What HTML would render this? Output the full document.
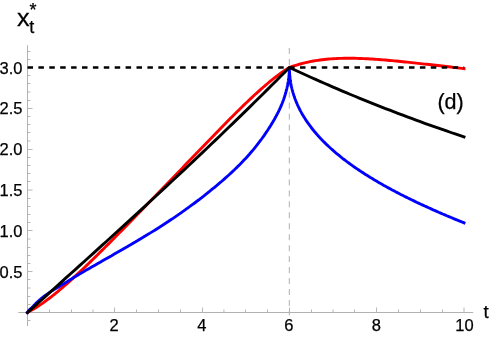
<!DOCTYPE html>
<html><head><meta charset="utf-8"><title>plot</title>
<style>html,body{margin:0;padding:0;background:#fff;overflow:hidden}svg{display:block;will-change:transform}text{font-family:"Liberation Sans",sans-serif}</style>
</head><body>
<svg width="491" height="337" viewBox="0 0 491 337">
<rect width="491" height="337" fill="#fff"/>
<path d="M18.3,312.5 H473.2 M27.5,45.2 V326" stroke="#b2b2b2" stroke-width="1" fill="none"/>
<path d="M49.50,312.5 v-3 M71.50,312.5 v-3 M92.97,312.5 v-3 M114.50,312.5 v-5 M136.50,312.5 v-3 M158.50,312.5 v-3 M180.50,312.5 v-3 M202.50,312.5 v-5 M223.92,312.5 v-3 M245.50,312.5 v-3 M267.50,312.5 v-3 M289.50,312.5 v-5 M311.50,312.5 v-3 M333.05,312.5 v-3 M354.50,312.5 v-3 M376.50,312.5 v-5 M398.50,312.5 v-3 M420.50,312.5 v-3 M442.50,312.5 v-3 M464.00,312.5 v-5 M27.5,320.50 h3 M27.5,304.50 h3 M27.5,296.50 h3 M27.5,288.00 h3 M27.5,279.50 h3 M27.5,271.50 h5 M27.5,263.50 h3 M27.5,255.50 h3 M27.5,247.50 h3 M27.5,239.00 h3 M27.5,230.50 h5 M27.5,222.50 h3 M27.5,214.50 h3 M27.5,206.50 h3 M27.5,198.50 h3 M27.5,190.00 h5 M27.5,181.50 h3 M27.5,173.50 h3 M27.5,165.50 h3 M27.5,157.50 h3 M27.5,149.50 h5 M27.5,140.99 h3 M27.5,132.50 h3 M27.5,124.50 h3 M27.5,116.50 h3 M27.5,108.50 h5 M27.5,100.50 h3 M27.5,91.99 h3 M27.5,83.50 h3 M27.5,75.50 h3 M27.5,67.50 h5 M27.5,59.50 h3 M27.5,51.50 h3" stroke="#b8b8b8" stroke-width="1" fill="none"/>
<path d="M289.3,47.9 V315.3" stroke="#b0b0b0" stroke-width="1" stroke-dasharray="6 4.96" fill="none"/>
<path d="M27.50,312.50 L29.68,311.33 L31.87,310.10 L34.05,308.81 L36.23,307.46 L38.41,306.05 L40.59,304.59 L42.78,303.08 L44.96,301.52 L47.14,299.92 L49.33,298.27 L51.51,296.58 L53.69,294.86 L55.87,293.10 L58.06,291.30 L60.24,289.47 L62.42,287.61 L64.60,285.72 L66.78,283.81 L68.97,281.86 L71.15,279.90 L73.33,277.91 L75.52,275.91 L77.70,273.88 L79.88,271.84 L82.06,269.77 L84.25,267.70 L86.43,265.61 L88.61,263.50 L90.79,261.38 L92.97,259.26 L95.16,257.12 L97.34,254.97 L99.52,252.81 L101.70,250.64 L103.89,248.47 L106.07,246.28 L108.25,244.10 L110.44,241.90 L112.62,239.70 L114.80,237.50 L116.98,235.29 L119.17,233.07 L121.35,230.86 L123.53,228.64 L125.71,226.41 L127.90,224.18 L130.08,221.95 L132.26,219.72 L134.44,217.49 L136.62,215.25 L138.81,213.01 L140.99,210.77 L143.17,208.52 L145.36,206.28 L147.54,204.03 L149.72,201.78 L151.90,199.53 L154.09,197.28 L156.27,195.03 L158.45,192.77 L160.63,190.52 L162.81,188.26 L165.00,186.00 L167.18,183.74 L169.36,181.48 L171.55,179.22 L173.73,176.95 L175.91,174.69 L178.09,172.42 L180.28,170.16 L182.46,167.89 L184.64,165.62 L186.82,163.35 L189.00,161.08 L191.19,158.82 L193.37,156.55 L195.55,154.28 L197.74,152.01 L199.92,149.74 L202.10,147.48 L204.28,145.21 L206.47,142.95 L208.65,140.69 L210.83,138.43 L213.01,136.18 L215.19,133.93 L217.38,131.69 L219.56,129.45 L221.74,127.21 L223.92,124.99 L226.11,122.77 L228.29,120.55 L230.47,118.35 L232.66,116.16 L234.84,113.98 L237.02,111.81 L239.20,109.66 L241.39,107.52 L243.57,105.39 L245.75,103.29 L247.93,101.20 L250.12,99.13 L252.30,97.08 L254.48,95.06 L256.66,93.06 L258.85,91.09 L261.03,89.15 L263.21,87.23 L265.39,85.35 L267.57,83.51 L269.76,81.70 L271.94,79.93 L274.12,78.20 L276.31,76.52 L278.49,74.88 L280.67,73.29 L282.85,71.76 L285.04,70.28 L287.22,68.85 L289.40,67.49 L291.58,66.70 L293.76,65.96 L295.95,65.26 L298.13,64.60 L300.31,63.98 L302.50,63.41 L304.68,62.86 L306.86,62.36 L309.04,61.89 L311.22,61.45 L313.41,61.05 L315.59,60.68 L317.77,60.34 L319.95,60.03 L322.14,59.74 L324.32,59.49 L326.50,59.26 L328.69,59.06 L330.87,58.88 L333.05,58.73 L335.23,58.60 L337.42,58.49 L339.60,58.41 L341.78,58.34 L343.96,58.29 L346.15,58.26 L348.33,58.25 L350.51,58.25 L352.69,58.28 L354.88,58.31 L357.06,58.36 L359.24,58.43 L361.42,58.51 L363.61,58.60 L365.79,58.70 L367.97,58.81 L370.15,58.94 L372.33,59.07 L374.52,59.22 L376.70,59.37 L378.88,59.53 L381.06,59.70 L383.25,59.88 L385.43,60.06 L387.61,60.25 L389.80,60.44 L391.98,60.64 L394.16,60.85 L396.34,61.06 L398.52,61.27 L400.71,61.49 L402.89,61.71 L405.07,61.94 L407.26,62.17 L409.44,62.40 L411.62,62.63 L413.80,62.86 L415.99,63.10 L418.17,63.34 L420.35,63.58 L422.53,63.82 L424.71,64.07 L426.90,64.31 L429.08,64.56 L431.26,64.80 L433.44,65.05 L435.63,65.30 L437.81,65.55 L439.99,65.80 L442.18,66.05 L444.36,66.30 L446.54,66.55 L448.72,66.81 L450.91,67.06 L453.09,67.32 L455.27,67.58 L457.45,67.84 L459.63,68.10 L461.82,68.36 L464.00,68.63" stroke="#f00" stroke-width="2.9" fill="none" stroke-linecap="square" stroke-linejoin="round"/>
<path d="M27.50,312.50 L27.72,312.07 L27.94,311.66 L28.37,310.95 L29.03,310.15 L29.68,309.48 L30.77,308.50 L31.87,307.52 L32.96,306.43 L34.05,305.33 L35.14,304.22 L36.23,303.12 L37.32,302.04 L38.41,301.01 L39.50,300.03 L40.60,299.11 L41.69,298.21 L42.78,297.34 L43.87,296.50 L44.96,295.68 L46.05,294.88 L47.14,294.09 L48.23,293.33 L49.33,292.58 L50.42,291.84 L51.51,291.12 L52.60,290.42 L53.69,289.74 L54.78,289.07 L55.87,288.42 L56.96,287.77 L58.06,287.13 L59.15,286.50 L60.24,285.87 L61.33,285.23 L62.42,284.59 L63.51,283.95 L64.60,283.29 L65.69,282.60 L66.79,281.90 L67.88,281.20 L68.97,280.50 L70.06,279.80 L71.15,279.11 L72.24,278.42 L73.33,277.75 L74.42,277.08 L75.52,276.43 L76.61,275.79 L77.70,275.15 L78.79,274.51 L79.88,273.87 L80.97,273.23 L82.06,272.59 L83.15,271.95 L84.25,271.30 L86.35,270.08 L89.24,268.42 L92.11,266.78 L94.96,265.15 L97.79,263.53 L100.60,261.93 L103.38,260.35 L106.15,258.77 L108.90,257.20 L111.62,255.65 L114.32,254.10 L117.01,252.57 L119.67,251.04 L122.31,249.52 L124.93,248.00 L127.53,246.50 L130.11,245.00 L132.67,243.50 L135.21,242.01 L137.73,240.52 L140.22,239.03 L142.70,237.55 L145.15,236.07 L147.59,234.59 L150.00,233.12 L152.39,231.64 L154.77,230.16 L157.12,228.69 L159.45,227.21 L161.76,225.74 L164.05,224.26 L166.32,222.78 L168.57,221.30 L170.79,219.81 L173.00,218.33 L175.19,216.84 L177.35,215.36 L179.50,213.87 L181.62,212.38 L183.72,210.90 L185.80,209.41 L187.87,207.92 L189.91,206.44 L191.93,204.95 L193.93,203.47 L195.90,201.99 L197.86,200.51 L199.80,199.03 L201.72,197.55 L203.61,196.08 L205.49,194.60 L207.34,193.13 L209.18,191.67 L210.99,190.20 L212.78,188.74 L214.55,187.28 L216.30,185.83 L218.03,184.37 L219.74,182.92 L221.43,181.48 L223.10,180.04 L224.75,178.59 L226.37,177.16 L227.98,175.72 L229.56,174.28 L231.13,172.84 L232.67,171.41 L234.19,169.97 L235.70,168.53 L237.18,167.09 L238.64,165.65 L240.08,164.20 L241.50,162.76 L242.90,161.31 L244.27,159.85 L245.63,158.40 L246.97,156.94 L248.28,155.47 L249.58,154.00 L250.85,152.53 L252.11,151.06 L253.34,149.58 L254.55,148.10 L255.74,146.62 L256.91,145.14 L258.06,143.66 L259.19,142.18 L260.30,140.71 L261.39,139.24 L262.45,137.77 L263.50,136.30 L264.53,134.84 L265.53,133.39 L266.52,131.94 L267.48,130.49 L268.42,129.06 L269.34,127.62 L270.25,126.20 L271.13,124.78 L271.99,123.37 L272.82,121.97 L273.64,120.57 L274.44,119.18 L275.22,117.79 L275.97,116.41 L276.71,115.04 L277.42,113.67 L278.12,112.29 L278.79,110.92 L279.44,109.55 L280.08,108.18 L280.69,106.81 L281.28,105.44 L281.85,104.07 L282.40,102.69 L282.93,101.31 L283.43,99.93 L283.92,98.55 L284.39,97.17 L284.83,95.78 L285.26,94.40 L285.66,93.01 L286.04,91.63 L286.41,90.24 L286.75,88.86 L287.07,87.48 L287.37,86.11 L287.65,84.74 L287.91,83.38 L288.15,82.02 L288.36,80.67 L288.56,79.32 L288.74,77.98 L288.89,76.65 L289.03,75.33 L289.14,74.01 L289.23,72.69 L289.31,71.39 L289.36,70.08 L289.39,68.79 L289.40,67.49 L289.41,68.61 L289.43,69.73 L289.46,70.85 L289.51,71.97 L289.57,73.08 L289.65,74.19 L289.74,75.31 L289.84,76.41 L289.96,77.52 L290.09,78.63 L290.24,79.73 L290.39,80.83 L290.57,81.93 L290.75,83.03 L290.95,84.12 L291.17,85.21 L291.40,86.30 L291.64,87.39 L291.89,88.48 L292.16,89.57 L292.45,90.65 L292.74,91.73 L293.05,92.81 L293.38,93.88 L293.72,94.96 L294.07,96.03 L294.43,97.10 L294.81,98.17 L295.21,99.24 L295.62,100.30 L296.04,101.36 L296.47,102.42 L296.92,103.48 L297.38,104.54 L297.86,105.59 L298.35,106.64 L298.85,107.69 L299.37,108.74 L299.90,109.78 L300.45,110.83 L301.01,111.87 L301.58,112.91 L302.17,113.95 L302.77,114.98 L303.39,116.01 L304.01,117.04 L304.66,118.07 L305.31,119.10 L305.98,120.12 L306.67,121.15 L307.36,122.17 L308.07,123.19 L308.80,124.20 L309.54,125.22 L310.29,126.23 L311.06,127.24 L311.84,128.25 L312.63,129.25 L313.44,130.26 L314.26,131.26 L315.10,132.26 L315.95,133.26 L316.81,134.25 L317.69,135.25 L318.58,136.24 L319.48,137.23 L320.40,138.22 L321.34,139.21 L322.28,140.19 L323.24,141.17 L324.22,142.15 L325.20,143.13 L326.20,144.11 L327.22,145.08 L328.25,146.06 L329.29,147.03 L330.35,148.00 L331.42,148.96 L332.50,149.93 L333.60,150.89 L334.71,151.85 L335.84,152.81 L336.98,153.77 L338.13,154.73 L339.30,155.68 L340.48,156.64 L341.67,157.59 L342.88,158.54 L344.11,159.48 L345.34,160.43 L346.59,161.37 L347.86,162.32 L349.13,163.26 L350.42,164.20 L351.73,165.13 L353.05,166.07 L354.38,167.01 L355.73,167.94 L357.09,168.87 L358.46,169.80 L359.85,170.73 L361.25,171.66 L362.67,172.58 L364.10,173.51 L365.54,174.43 L367.00,175.35 L368.47,176.27 L369.96,177.19 L371.45,178.11 L372.97,179.02 L374.49,179.94 L376.03,180.85 L377.59,181.76 L379.16,182.67 L380.74,183.58 L382.33,184.49 L383.94,185.40 L385.56,186.31 L387.20,187.21 L388.85,188.12 L390.52,189.02 L392.19,189.92 L393.89,190.82 L395.59,191.72 L397.31,192.62 L399.05,193.52 L400.79,194.42 L402.55,195.31 L404.33,196.21 L406.12,197.10 L407.92,198.00 L409.74,198.89 L411.57,199.78 L413.41,200.67 L415.27,201.57 L417.14,202.46 L419.03,203.35 L420.92,204.23 L422.84,205.12 L424.76,206.01 L426.71,206.90 L428.66,207.79 L430.63,208.67 L432.61,209.56 L434.61,210.45 L436.62,211.33 L438.64,212.22 L440.68,213.10 L442.73,213.99 L444.79,214.87 L446.87,215.76 L448.96,216.64 L451.07,217.52 L453.19,218.41 L455.33,219.29 L457.47,220.18 L459.64,221.06 L461.81,221.95 L464.00,222.83" stroke="#00f" stroke-width="2.9" fill="none" stroke-linecap="square" stroke-linejoin="bevel"/>
<path d="M27.50,312.50 L31.87,308.58 L36.23,304.66 L40.59,300.74 L44.96,296.82 L49.33,292.90 L53.69,288.98 L58.06,285.06 L62.42,281.13 L66.78,277.20 L71.15,273.27 L75.52,269.34 L79.88,265.40 L84.25,261.46 L88.61,257.52 L92.97,253.57 L97.34,249.62 L101.70,245.67 L106.07,241.71 L110.44,237.74 L114.80,233.77 L119.17,229.80 L123.53,225.82 L127.90,221.83 L132.26,217.84 L136.62,213.84 L140.99,209.83 L145.36,205.81 L149.72,201.79 L154.09,197.76 L158.45,193.73 L162.81,189.68 L167.18,185.63 L171.55,181.56 L175.91,177.49 L180.28,173.41 L184.64,169.32 L189.00,165.22 L193.37,161.11 L197.74,156.99 L202.10,152.85 L206.47,148.71 L210.83,144.56 L215.19,140.39 L219.56,136.21 L223.92,132.02 L228.29,127.82 L232.66,123.60 L237.02,119.37 L241.39,115.13 L245.75,110.87 L250.12,106.60 L254.48,102.32 L258.85,98.02 L263.21,93.70 L267.57,89.37 L271.94,85.03 L276.31,80.67 L280.67,76.29 L285.04,71.90 L289.40,67.49 L293.76,69.52 L298.13,71.54 L302.50,73.54 L306.86,75.52 L311.22,77.49 L315.59,79.44 L319.95,81.37 L324.32,83.29 L328.69,85.19 L333.05,87.08 L337.41,88.95 L341.78,90.81 L346.14,92.65 L350.51,94.47 L354.88,96.28 L359.24,98.07 L363.61,99.85 L367.97,101.62 L372.33,103.37 L376.70,105.10 L381.06,106.82 L385.43,108.53 L389.80,110.22 L394.16,111.90 L398.52,113.57 L402.89,115.22 L407.25,116.86 L411.62,118.48 L415.99,120.09 L420.35,121.69 L424.71,123.27 L429.08,124.84 L433.44,126.40 L437.81,127.94 L442.18,129.47 L446.54,130.99 L450.90,132.50 L455.27,133.99 L459.63,135.47 L464.00,136.94" stroke="#000" stroke-width="2.9" fill="none" stroke-linecap="square" stroke-linejoin="miter"/>
<path d="M27.5,67.49 H464.2" stroke="#000" stroke-width="2.7" stroke-dasharray="5.5 5.4" fill="none"/>
<g fill="#000" stroke="#000" stroke-width="0.25" font-family="'Liberation Sans', sans-serif"><text x="114.00" y="331.3" font-size="16.5" text-anchor="middle">2</text><text x="201.90" y="331.3" font-size="16.5" text-anchor="middle">4</text><text x="288.90" y="331.3" font-size="16.5" text-anchor="middle">6</text><text x="376.40" y="331.3" font-size="16.5" text-anchor="middle">8</text><text x="464.40" y="331.3" font-size="16.5" text-anchor="middle">10</text><text x="22.5" y="277.77" font-size="16.5" text-anchor="end">0.5</text><text x="22.5" y="236.93" font-size="16.5" text-anchor="end">1.0</text><text x="22.5" y="196.09" font-size="16.5" text-anchor="end">1.5</text><text x="22.5" y="155.26" font-size="16.5" text-anchor="end">2.0</text><text x="22.5" y="114.42" font-size="16.5" text-anchor="end">2.5</text><text x="22.5" y="73.59" font-size="16.5" text-anchor="end">3.0</text><text x="483.6" y="317.8" font-size="18.8">t</text><text x="437.4" y="109.3" font-size="21.6">(d)</text><text transform="translate(16.9,26) scale(1.07,1)" font-size="23.6">x</text><text x="29.3" y="33.1" font-size="18">t</text><text x="29.6" y="15.7" font-size="18">*</text></g>
</svg>
</body></html>
